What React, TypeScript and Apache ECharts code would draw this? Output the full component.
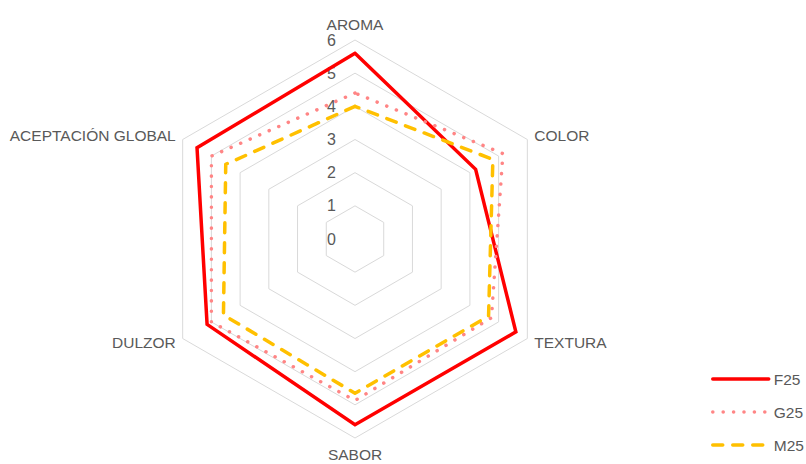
import React, { useEffect, useRef } from "react";
import * as echarts from "echarts";

// Attributes, listed clockwise starting from the top axis
const categories = ["AROMA", "COLOR", "TEXTURA", "SABOR", "DULZOR", "ACEPTACIÓN GLOBAL"];
const seriesNames = ["F25", "G25", "M25"];
const f25 = [5.6, 4.2, 5.6, 5.6, 5.15, 5.5];
const g25 = [4.4, 5.15, 4.75, 4.87, 5.0, 5.0];
const m25 = [4.0, 4.8, 4.65, 4.65, 4.58, 4.5];
const scaleMin = 0;
const scaleMax = 6;

const FONT = "'Liberation Sans', Arial, sans-serif";
const TEXT = "#595959";

export default function App() {
  const ref = useRef<HTMLDivElement>(null);

  useEffect(() => {
    document.body.style.margin = "0";
    if (!ref.current) return;
    const chart = echarts.init(ref.current, null, { renderer: "svg" });

    // ECharts lays radar axes out counter-clockwise, so reverse all but the first
    const order = [0, ...categories.slice(1).map((_, i) => categories.length - 1 - i)];
    const pick = (arr: number[]) => order.map((i) => arr[i]);

    const styles = [
      { color: "#FF0000", type: "solid" as any, cap: "round" },
      { color: "#FF8585", type: [0.1, 10.3] as any, cap: "round" },
      { color: "#FFC000", type: [10, 10] as any, cap: "round" },
    ];
    const values = [f25, g25, m25];

    chart.setOption({
      animation: false,
      backgroundColor: "#ffffff",
      textStyle: { fontFamily: FONT },
      legend: {
        orient: "vertical",
        left: 711,
        top: 371,
        padding: 0,
        itemWidth: 56,
        itemHeight: 14,
        itemGap: 17,
        textStyle: { color: TEXT, fontSize: 15.5, fontFamily: FONT },
        data: seriesNames.map((n, i) => ({
          name: n,
          icon: "line",
          itemStyle: {
            color: styles[i].color,
            borderColor: styles[i].color,
            borderWidth: 3.5,
            borderType: styles[i].type,
            borderCap: styles[i].cap,
          },
        })),
      },
      radar: {
        center: [355, 239],
        radius: 199,
        startAngle: 90,
        splitNumber: 6,
        shape: "polygon",
        nameGap: 8,
        axisName: { color: TEXT, fontSize: 15.5, fontFamily: FONT },
        axisLine: { show: false },
        axisTick: { show: false },
        axisLabel: { show: false },
        splitArea: { show: false },
        splitLine: { lineStyle: { color: "#D9D9D9", width: 1 } },
        indicator: order.map((i, k) => ({
          name: categories[i],
          min: scaleMin,
          max: scaleMax,
          ...(k === 0
            ? {
                axisLabel: {
                  show: true,
                  color: TEXT,
                  fontSize: 16,
                  fontFamily: FONT,
                  margin: 19,
                },
              }
            : {}),
        })),
      },
      series: [
        {
          type: "radar",
          symbol: "none",
          data: values.map((v, i) => ({
            name: seriesNames[i],
            value: pick(v),
            lineStyle: {
              color: styles[i].color,
              width: 3.5,
              type: styles[i].type,
              cap: styles[i].cap,
              join: i === 0 ? "miter" : "round",
            },
            itemStyle: { color: styles[i].color },
            areaStyle: { opacity: 0 },
          })),
        },
      ],
    });

    return () => chart.dispose();
  }, []);

  return <div ref={ref} style={{ width: 806, height: 464 }} />;
}
